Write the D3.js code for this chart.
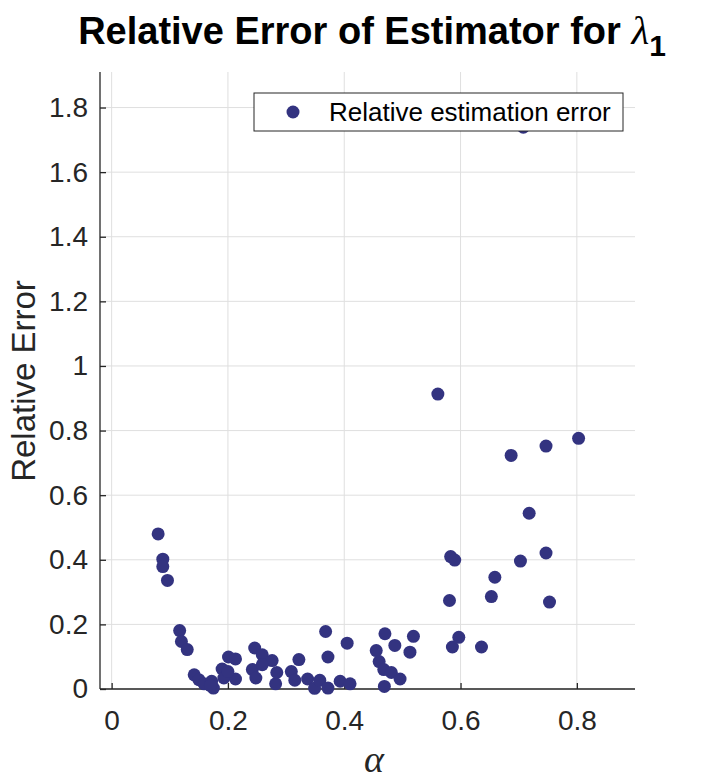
<!DOCTYPE html>
<html>
<head>
<meta charset="utf-8">
<script src="https://cdn.jsdelivr.net/npm/d3@7"></script>
<style>
  body { margin: 0; background: #fff; }
  svg text { font-family: "Liberation Sans", Arial, Helvetica, sans-serif; }
</style>
</head>
<body>
<svg id="chart" width="703" height="781"></svg>
<script>
// values
const alphaValues = [
    0.080, 0.088, 0.088, 0.096, 0.117, 0.120, 0.130, 0.142, 0.150, 0.159,
    0.172, 0.175, 0.170, 0.190, 0.201, 0.213, 0.193, 0.213, 0.200, 0.246,
    0.259, 0.276, 0.242, 0.248, 0.259, 0.282, 0.284, 0.309, 0.315, 0.322,
    0.337, 0.349, 0.358, 0.372, 0.368, 0.372, 0.393, 0.410, 0.405, 0.455,
    0.460, 0.468, 0.469, 0.470, 0.481, 0.487, 0.496, 0.513, 0.519, 0.586,
    0.597, 0.636, 0.561, 0.687, 0.747, 0.803, 0.718, 0.583, 0.590, 0.703,
    0.747, 0.659, 0.581, 0.653, 0.753, 0.708
];
const relError = [
    0.480, 0.402, 0.379, 0.336, 0.181, 0.147, 0.122, 0.044, 0.029, 0.016,
    0.024, 0.003, 0.010, 0.062, 0.099, 0.093, 0.034, 0.031, 0.054, 0.127,
    0.106, 0.088, 0.060, 0.034, 0.075, 0.016, 0.051, 0.054, 0.027, 0.091,
    0.031, 0.002, 0.027, 0.003, 0.178, 0.099, 0.024, 0.016, 0.142, 0.119,
    0.085, 0.060, 0.008, 0.171, 0.051, 0.135, 0.031, 0.114, 0.163, 0.130,
    0.160, 0.130, 0.913, 0.723, 0.752, 0.776, 0.544, 0.410, 0.399, 0.396,
    0.421, 0.346, 0.274, 0.286, 0.269, 1.739
];
const xTicks = [0, 0.2, 0.4, 0.6, 0.8];
const yTicks = [0, 0.2, 0.4, 0.6, 0.8, 1, 1.2, 1.4, 1.6, 1.8];
const xDomain = [-0.02, 0.9];
const yDomain = [0, 1.91];
const legendLabel = "Relative estimation error";

const markerColor = "#333380";
const axisColor = "#262626";

const svg = d3.select("#chart");
const plotLeft = 100, plotRight = 635, plotTop = 72, plotBottom = 689;

const x = d3.scaleLinear().domain(xDomain).range([plotLeft, plotRight]);
const y = d3.scaleLinear().domain(yDomain).range([plotBottom, plotTop]);

const points = alphaValues.map((a, i) => ({a: a, e: relError[i]}));

// grid
svg.append("g").selectAll("line")
    .data(xTicks)
    .enter()
    .append("line")
    .attr("x1", d => x(d)).attr("x2", d => x(d))
    .attr("y1", plotTop).attr("y2", plotBottom)
    .attr("stroke", "#dfdfdf").attr("stroke-width", 1);

svg.append("g").selectAll("line")
    .data(yTicks)
    .enter()
    .append("line")
    .attr("x1", plotLeft).attr("x2", plotRight)
    .attr("y1", d => y(d)).attr("y2", d => y(d))
    .attr("stroke", "#dfdfdf").attr("stroke-width", 1);

// axes, ticks point inward like matlab
const xAxis = svg.append("g")
    .attr("transform", `translate(0,${plotBottom})`)
    .call(d3.axisBottom(x).tickValues(xTicks).tickSize(-6).tickSizeOuter(0)
        .tickFormat(d3.format("~g")).tickPadding(15));
const yAxis = svg.append("g")
    .attr("transform", `translate(${plotLeft},0)`)
    .call(d3.axisLeft(y).tickValues(yTicks).tickSize(-6).tickSizeOuter(0)
        .tickFormat(d3.format("~g")).tickPadding(12));

[xAxis, yAxis].forEach(ax => {
    ax.select(".domain").attr("stroke", axisColor).attr("stroke-width", 1.3);
    ax.selectAll(".tick line").attr("stroke", axisColor).attr("stroke-width", 1.3);
    ax.selectAll(".tick text")
        .attr("fill", axisColor)
        .style("font-size", "28px")
        .style("font-family", "'Liberation Sans', Arial, sans-serif");
});
xAxis.selectAll(".tick text").attr("dy", "0.93em");
// axis lines run the full plot box
xAxis.select(".domain").attr("d", `M${plotLeft},0H${plotRight}`);
yAxis.select(".domain").attr("d", `M0,${plotBottom}V${plotTop}`);

// points
svg.append("g").selectAll("circle")
    .data(points)
    .enter()
    .append("circle")
    .attr("cx", d => x(d.a))
    .attr("cy", d => y(d.e))
    .attr("r", 6.5)
    .attr("fill", markerColor);

// legend
let legend = svg.append("g").attr("transform", "translate(254,93)");
legend.append("rect")
    .attr("width", 369).attr("height", 38)
    .attr("fill", "#fff").attr("stroke", axisColor).attr("stroke-width", 1);
legend.append("circle").attr("cx", 39).attr("cy", 19).attr("r", 6.5).attr("fill", markerColor);
legend.append("text")
    .attr("x", 75).attr("y", 28)
    .style("font-size", "26px")
    .attr("fill", "#000")
    .text(legendLabel);

// title
let title = svg.append("text")
    .attr("x", 372).attr("y", 44)
    .attr("text-anchor", "middle")
    .style("font-size", "38px")
    .style("font-weight", "bold")
    .attr("fill", "#000");
title.append("tspan").text("Relative Error of Estimator for ");
title.append("tspan")
    .style("font-family", "'Liberation Serif', 'DejaVu Serif', serif")
    .style("font-style", "italic")
    .style("font-weight", "normal")
    .style("font-size", "41px")
    .text("\u03bb");
title.append("tspan")
    .attr("dy", 12)
    .style("font-size", "30px")
    .text("1");

// axis labels
svg.append("text")
    .attr("x", 374).attr("y", 772)
    .attr("text-anchor", "middle")
    .style("font-family", "'Liberation Serif', 'DejaVu Serif', serif")
    .style("font-style", "italic")
    .style("font-size", "38px")
    .attr("fill", axisColor)
    .text("\u03b1");

svg.append("text")
    .attr("transform", "translate(35,381) rotate(-90)")
    .attr("text-anchor", "middle")
    .style("font-size", "33px")
    .attr("fill", axisColor)
    .text("Relative Error");
</script>
</body>
</html>
